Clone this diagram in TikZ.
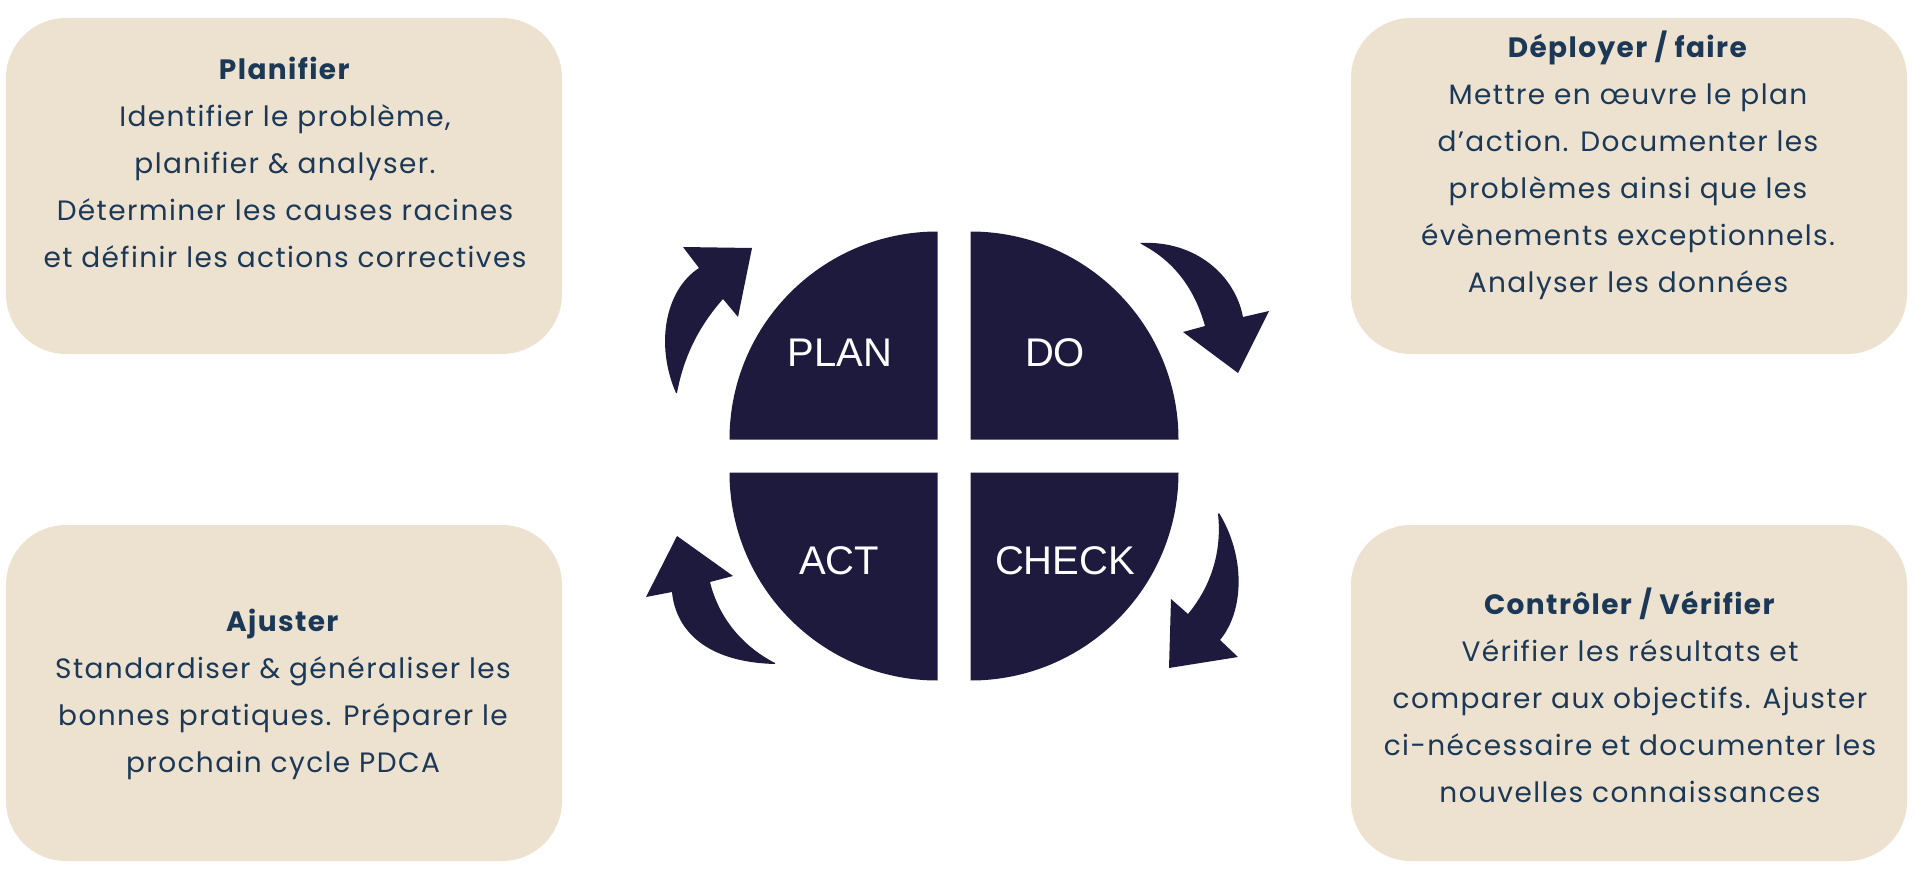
\documentclass[tikz,border=0pt]{standalone}
\usepackage{fontspec}
\setmainfont{Poppins}[LetterSpace=5]
\newfontfamily\labelfont{Liberation Sans}
\definecolor{boxfill}{HTML}{EDE2CF}
\definecolor{textblue}{HTML}{1C3857}
\definecolor{pdcablue}{HTML}{1E1A3E}

\begin{document}
\begin{tikzpicture}[x=1pt,y=-1pt,
  phasebox/.style={fill=boxfill, rounded corners=60pt, minimum width=556pt, minimum height=336pt, inner sep=0pt},
  phasetext/.style={text=textblue, align=center, font=\fontsize{28}{47}\selectfont},
  quarter/.style={fill=pdcablue},
  quarterlabel/.style={text=white, font=\labelfont\fontsize{40}{48}\selectfont},
  cyclearrow/.style={fill=pdcablue}]
  \useasboundingbox (0,0) rectangle (1915,880);
  % Boxes
  \node[phasebox] (planBox) at (284,186) {};
  \node[phasebox] (doBox) at (1629,186) {};
  \node[phasebox] (actBox) at (284,693) {};
  \node[phasebox] (checkBox) at (1629,693) {};
  \node[phasetext] (planText) at (285,162) {\textbf{Planifier}\\Identifier le problème,\\planifier \& analyser.\\Déterminer les causes racines\\et définir les actions correctives};
  \node[phasetext] (doText) at (1628,165) {\textbf{Déployer / faire}\\Mettre en œuvre le plan\\d’action. Documenter les\\problèmes ainsi que les\\évènements exceptionnels.\\Analyser les données};
  \node[phasetext] (actText) at (283,694) {\textbf{Ajuster}\\Standardiser \& généraliser les\\bonnes pratiques. Préparer le\\prochain cycle PDCA};
  \node[phasetext] (checkText) at (1630,695) {\textbf{Contrôler / Vérifier}\\Vérifier les résultats et\\comparer aux objectifs. Ajuster\\ci-nécessaire et documenter les\\nouvelles connaissances};
  % Circle
  \fill[quarter] (937.5,439.5) -- ++(-208,0) arc[start angle=180, end angle=270, radius=208] -- cycle;
  \fill[quarter] (970.5,439.5) -- ++(0,-208) arc[start angle=270, end angle=360, radius=208] -- cycle;
  \fill[quarter] (970.5,472.5) -- ++(208,0) arc[start angle=0, end angle=90, radius=208] -- cycle;
  \fill[quarter] (937.5,472.5) -- ++(0,208) arc[start angle=90, end angle=180, radius=208] -- cycle;
  \node[quarterlabel] (plan) at (840,353) {PLAN};
  \node[quarterlabel] (do) at (1055,353) {DO};
  \node[quarterlabel] (act) at (839,561) {ACT};
  \node[quarterlabel] (check) at (1065,561) {CHECK};
  % Arrows
  \fill[cyclearrow] (676,393) .. controls (655,345) and (665,290) .. (699,268)
    -- (683,247) -- (752,248) -- (738,317) -- (723,299)
    .. controls (700,325) and (684,355) .. (677,393) -- cycle;
  \fill[cyclearrow] (1140,243) .. controls (1195,240) and (1235,275) .. (1243,317)
    -- (1269,311) -- (1238,373) -- (1183,332) -- (1205,326)
    .. controls (1195,290) and (1175,262) .. (1143,245) -- cycle;
  \fill[cyclearrow] (1219,513) .. controls (1245,555) and (1245,610) .. (1220,640)
    -- (1238,657) -- (1169,668) -- (1171,599) -- (1188,614)
    .. controls (1212,585) and (1222,550) .. (1218,514) -- cycle;
  \fill[cyclearrow] (775,664) .. controls (700,662) and (675,625) .. (672,592)
    -- (646,597) -- (677,536) -- (733,576) -- (710,582)
    .. controls (718,615) and (740,645) .. (775,663) -- cycle;
\end{tikzpicture}
\end{document}
